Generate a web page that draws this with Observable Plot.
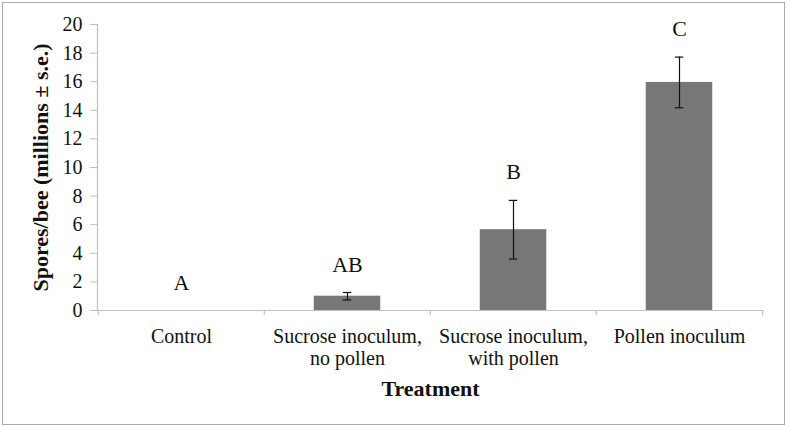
<!DOCTYPE html>
<html>
<head>
<meta charset="utf-8">
<script src="https://cdn.jsdelivr.net/npm/d3@7"></script>
<script src="https://cdn.jsdelivr.net/npm/@observablehq/plot@0.6"></script>
<style>
  html, body { margin: 0; padding: 0; background: #fff; }
  #wrap { position: relative; width: 788px; height: 427px; }
  #border { position: absolute; left: 2px; top: 2px; width: 781px; height: 421px; border: 1.5px solid #a9a9a9; pointer-events: none; }
  svg, svg text { font-family: "Liberation Serif", "Times New Roman", serif !important; }
</style>
</head>
<body>
<div id="wrap"><div id="border"></div></div>
<script>
const categories = ["Control", "Sucrose inoculum,\nno pollen", "Sucrose inoculum,\nwith pollen", "Pollen inoculum"];
const means = [0, 1.0, 5.65, 15.95];
const errors = [0, 0.26, 2.05, 1.77];
const letters = ["A", "AB", "B", "C"];
const yTicks = [0, 2, 4, 6, 8, 10, 12, 14, 16, 18, 20];

const data = categories.map((c, i) => ({cat: c, mean: means[i], se: errors[i], letter: letters[i]}));

const W = 788, H = 427, ML = 97, MR = 25, MT = 24, MB = 117;
const bw = (W - ML - MR) / categories.length;
const barW = 67, capW = 9;
const axisColor = "#bfbfbf";
const serif = "'Liberation Serif', 'Times New Roman', serif";

const chart = Plot.plot({
  width: W, height: H,
  marginLeft: ML, marginRight: MR, marginTop: MT, marginBottom: MB,
  style: {fontFamily: serif, background: "transparent"},
  x: {domain: categories, padding: 0, axis: null},
  y: {domain: [0, 20], ticks: yTicks},
  marks: [
    Plot.barY(data, {x: "cat", y: "mean", fill: "#777777", insetLeft: (bw - barW) / 2, insetRight: (bw - barW) / 2}),
    Plot.ruleY([0], {stroke: axisColor, strokeWidth: 1.2}),
    Plot.frame({anchor: "left", stroke: axisColor, strokeWidth: 1.2}),
    Plot.axisY({ticks: yTicks, tickSize: 7, tickPadding: 8, stroke: axisColor, fontSize: 20, fontFamily: serif, fill: "#111", label: null}),
    Plot.ruleX(categories, {x: d => d, y1: 0, y2: -0.36, dx: -bw / 2, stroke: axisColor, strokeWidth: 1.2}),
    Plot.ruleX([categories[categories.length - 1]], {x: d => d, y1: 0, y2: -0.36, dx: bw / 2, stroke: axisColor, strokeWidth: 1.2}),
    Plot.ruleX(data.filter(d => d.se > 0), {x: "cat", y1: d => d.mean - d.se, y2: d => d.mean + d.se, stroke: "#111", strokeWidth: 1.2}),
    Plot.tickY(data.filter(d => d.se > 0), {x: "cat", y: d => d.mean - d.se, stroke: "#111", strokeWidth: 1.2, insetLeft: (bw - capW) / 2, insetRight: (bw - capW) / 2}),
    Plot.tickY(data.filter(d => d.se > 0), {x: "cat", y: d => d.mean + d.se, stroke: "#111", strokeWidth: 1.2, insetLeft: (bw - capW) / 2, insetRight: (bw - capW) / 2}),
    Plot.text(data, {x: "cat", y: d => d.mean + d.se, text: "letter", dy: -28, fontSize: 22, fill: "#111"}),
    Plot.text(data, {x: "cat", y: 0, text: "cat", dy: 16, lineAnchor: "top", lineHeight: 1.13, fontSize: 20, fill: "#111"}),
    Plot.text(["Treatment"], {frameAnchor: "bottom", dy: 78, textAnchor: "middle", lineAnchor: "middle", text: d => d, fontSize: 22, fontWeight: "bold", fill: "#111"}),
    Plot.text(["Spores/bee (millions ± s.e.)"], {frameAnchor: "left", dx: -57, rotate: -90, textAnchor: "middle", lineAnchor: "middle", text: d => d, fontSize: 22, fontWeight: "bold", fill: "#111"})
  ]
});
document.getElementById("wrap").prepend(chart);
</script>
</body>
</html>
